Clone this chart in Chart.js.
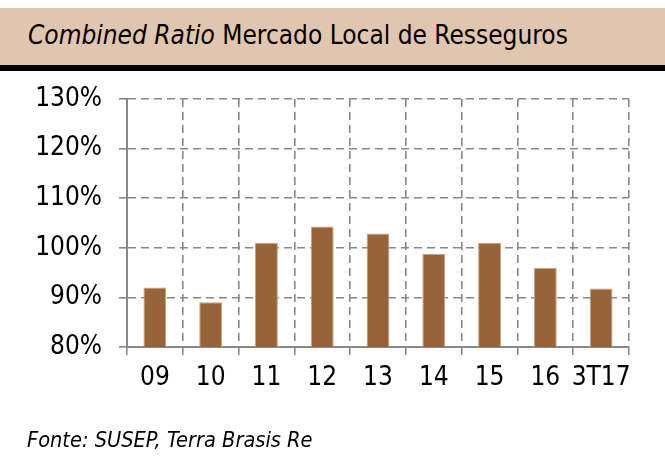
<!DOCTYPE html>
<html>
<head>
<meta charset="utf-8">
<script src="https://cdn.jsdelivr.net/npm/chart.js"></script>
<style>
  body { margin: 0; background: #fff; width: 665px; height: 459px; position: relative; overflow: hidden; }
  #head { position: absolute; left: 0; top: 8px; width: 665px; height: 57px; background: #e1c6af; border-bottom: 6px solid #000; }
  #head span { position: absolute; left: 28px; top: 12px; font: 26px "DejaVu Sans Condensed", "DejaVu Sans", sans-serif; white-space: nowrap; color: #000; }
  #foot { position: absolute; left: 27px; top: 427px; font: italic 21.6px "DejaVu Sans Condensed", "DejaVu Sans", sans-serif; color: #000; white-space: nowrap; }
  #box { position: absolute; left: 0; top: 0; width: 665px; height: 459px; }
</style>
</head>
<body>
<div id="box"><canvas id="myCanvas" width="665" height="459"></canvas></div>
<div id="head"><span><i>Combined Ratio</i> Mercado Local de Resseguros</span></div>
<div id="foot">Fonte: SUSEP, Terra Brasis Re</div>
<script>
let anos = ['09', '10', '11', '12', '13', '14', '15', '16', '3T17']
let combinedRatio = [92.0, 89.0, 101.0, 104.3, 102.9, 98.8, 101.0, 96.0, 91.8]
let yTicks = [80, 90, 100, 110, 120, 130]

let fonte = { family: '"DejaVu Sans Condensed", "DejaVu Sans", sans-serif', size: 26 }

let grafic = document.querySelector('#myCanvas').getContext('2d')
let myChart = new Chart(grafic, {
    type: 'bar',
    data: {
        labels: anos,
        datasets: [{
            label: 'Combined Ratio',
            data: combinedRatio,
            backgroundColor: '#97643a',
            borderColor: '#c9a27f',
            borderWidth: 1,
            barPercentage: 0.41,
            categoryPercentage: 1
        }]
    },
    options: {
        responsive: false,
        animation: false,
        layout: { padding: { left: 0, top: 99, right: 36, bottom: 0 } },
        scales: {
            x: {
                grid: { color: '#888', lineWidth: 1.6, tickLength: 8, offset: true },
                border: { color: '#888', width: 2, dash: [8, 5] },
                ticks: { color: '#000', font: fonte, padding: 8, maxRotation: 0, autoSkip: false },
                afterFit: s => { s.height = 459 - 347 }
            },
            y: {
                min: 80,
                max: 130,
                afterBuildTicks: s => { s.ticks = yTicks.map(v => ({ value: v })) },
                grid: { color: '#888', lineWidth: 1.6, tickLength: 8 },
                border: { color: '#888', width: 2, dash: [8, 5] },
                ticks: { color: '#000', font: fonte, padding: 17, callback: v => v + '%' },
                afterFit: s => { s.width = 127 }
            }
        },
        plugins: {
            legend: { display: false },
            tooltip: { enabled: false }
        }
    }
})
</script>
</body>
</html>
